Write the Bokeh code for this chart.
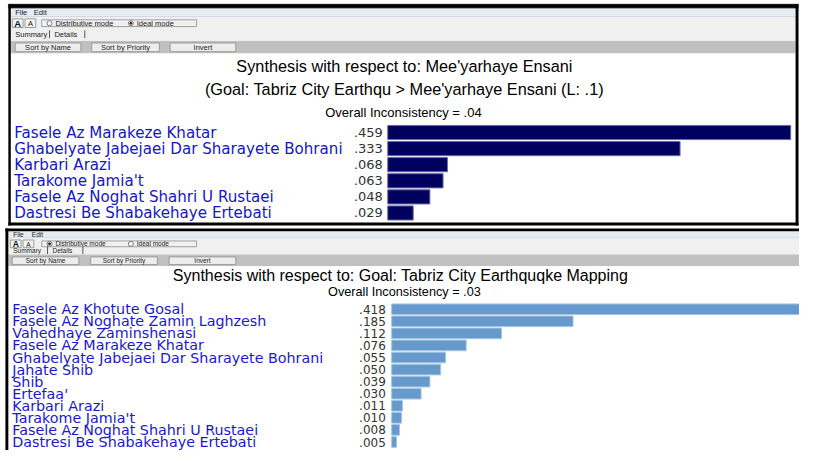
import numpy as np
from bokeh.plotting import figure
from bokeh.models import Range1d
from bokeh.embed import file_html
from bokeh.resources import INLINE
from bokeh.core.properties import value

# ---------------- data ----------------
top_title = "Synthesis with respect to: Mee'yarhaye Ensani"
top_subtitle = "(Goal: Tabriz City Earthqu > Mee'yarhaye Ensani (L: .1)"
top_inconsistency = "Overall Inconsistency = .04"
top_labels = [
    "Fasele Az Marakeze Khatar",
    "Ghabelyate Jabejaei Dar Sharayete Bohrani",
    "Karbari Arazi",
    "Tarakome Jamia't",
    "Fasele Az Noghat Shahri U Rustaei",
    "Dastresi Be Shabakehaye Ertebati",
]
top_values = [0.459, 0.333, 0.068, 0.063, 0.048, 0.029]

bottom_title = "Synthesis with respect to: Goal: Tabriz City Earthquqke Mapping"
bottom_inconsistency = "Overall Inconsistency = .03"
bottom_labels = [
    "Fasele Az Khotute Gosal",
    "Fasele Az Noghate Zamin Laghzesh",
    "Vahedhaye Zaminshenasi",
    "Fasele Az Marakeze Khatar",
    "Ghabelyate Jabejaei Dar Sharayete Bohrani",
    "Jahate Shib",
    "Shib",
    "Ertefaa'",
    "Karbari Arazi",
    "Tarakome Jamia't",
    "Fasele Az Noghat Shahri U Rustaei",
    "Dastresi Be Shabakehaye Ertebati",
]
bottom_values = [0.418, 0.185, 0.112, 0.076, 0.055, 0.050, 0.039, 0.030,
                 0.011, 0.010, 0.008, 0.005]

menu_items = ["File", "Edit"]
mode_items = ["Distributive mode", "Ideal mode"]
tab_items = ["Summary", "Details"]
button_items = ["Sort by Name", "Sort by Priority", "Invert"]


def fmt(v):
    return f"{v:.3f}"[1:]


# ---------------- figure ----------------
W, H = 799, 450
p = figure(width=W, height=H, output_backend="svg", toolbar_location=None,
           x_range=Range1d(0, 815), y_range=Range1d(466, 0),
           x_axis_location=None, y_axis_location=None, min_border=0)
p.grid.visible = False
p.outline_line_color = None
p.background_fill_color = "white"
p.border_fill_color = "white"

p.extra_x_ranges = {
    "v1": Range1d(-395 / 895.4, (815 - 395) / 895.4),
    "v2": Range1d(-0.399, 0.416),
}
p.extra_y_ranges = {
    "r1": Range1d((466 - 136.7) / 16.67, -136.7 / 16.67),
    "r2": Range1d((466 - 319.7) / 12.5, -319.7 / 12.5),
}

SANS = value("Liberation Sans")
DV = value("DejaVu Sans")


def rect(x0, x1, y0, y1, fill, line=None, lw=1):
    p.quad(left=[x0], right=[x1], top=[y0], bottom=[y1], fill_color=fill,
           line_color=line, line_width=lw)


def txt(x, y, s, size, color="black", align="left", font=SANS, style="normal"):
    p.text(x=[x], y=[y], text=[s], text_font=font, text_font_size=f"{size}px",
           text_color=color, text_align=align, text_baseline="middle",
           text_font_style=style)


def chrome(y_top, menu_y, toolbar_y, tab_y, gray_y, btn_y, btn_x, left,
           right, checked, fsize, content_bottom):
    # menu bar
    rect(left, right, y_top, menu_y, "#e6ebf4")
    p.segment(x0=[left], x1=[right], y0=[menu_y], y1=[menu_y], line_color="#c4cede")
    txt(left + 5, (y_top + menu_y) / 2, menu_items[0], fsize, "#222")
    txt(left + 24, (y_top + menu_y) / 2, menu_items[1], fsize, "#222")
    # toolbar
    rect(left, right, menu_y, gray_y[0], "#f0f0f0")
    ay0, ay1 = toolbar_y
    rect(left + 2, left + 13, ay0, ay1, "#f4f4f4", "#9a9a9a")
    rect(left + 15, left + 26, ay0, ay1, "#f4f4f4", "#9a9a9a")
    txt(left + 7.5, (ay0 + ay1) / 2 + 0.5, "A", fsize + 2, "#111", "center", style="bold")
    txt(left + 20.5, (ay0 + ay1) / 2 + 0.5, "A", fsize, "#111", "center")
    rect(42, 200, ay0 + 1, ay1 - 1, "#f0f0f0", "#a0a0a0")
    ym = (ay0 + ay1) / 2
    for i, (xr, lab) in enumerate(zip([50, 133], mode_items)):
        p.scatter(x=[xr], y=[ym], size=5, marker="circle", fill_color="white",
                  line_color="#777")
        if i == checked:
            p.scatter(x=[xr], y=[ym], size=2, marker="circle", fill_color="#222",
                      line_color="#222")
        txt(xr + 6, ym, lab, fsize, "#222")
    txt(left + 5, tab_y, tab_items[0], fsize, "#222")
    txt(left + 45, tab_y, tab_items[1], fsize, "#222")
    p.segment(x0=[left + 40, left + 76], x1=[left + 40, left + 76],
              y0=[tab_y - 4, tab_y - 4], y1=[tab_y + 4, tab_y + 4],
              line_color="#555", line_width=1)
    # gray button bar
    rect(left, right, gray_y[0], gray_y[1], "#c0c0c0")
    by0, by1 = btn_y
    for (bx0, bx1), lab in zip(btn_x, button_items):
        rect(bx0, bx1, by0, by1, "#ededed", "#9a9a9a")
        txt((bx0 + bx1) / 2, (by0 + by1) / 2, lab, fsize, "#222", "center")
    # white content area
    rect(left, right, gray_y[1], content_bottom, "white")


# ---------------- top panel ----------------
chrome(8, 17, (19, 28), 35, (42, 55), (44, 53),
       [(15, 82), (93, 162), (173, 240)], 10, 811, 1, 7.5, 230)
rect(8, 814, 3.5, 8, "black", "#888", 0.5)
rect(8, 10.5, 4, 233, "black")
rect(811, 814, 4, 233, "black")
rect(8, 814, 230, 233, "black")

txt(412, 68, top_title, 16.3, align="center")
txt(412, 92, top_subtitle, 16.3, align="center")
txt(411, 116, top_inconsistency, 13, align="center")

r1 = np.arange(len(top_values))
p.hbar(y=r1, left=0, right=top_values, height=0.88, fill_color="#00005e",
       line_color="#6a6aa6", line_width=1, x_range_name="v1", y_range_name="r1")
p.text(x=[14] * len(top_labels), y=r1, text=top_labels, text_font=DV,
       text_font_size="15.1px", text_color="#1616c8", text_baseline="middle",
       y_range_name="r1")
p.text(x=[390] * len(top_values), y=r1, text=[fmt(v) for v in top_values],
       text_font=DV, text_font_size="13px", text_color="#333333",
       text_align="right", text_baseline="middle", y_range_name="r1")

# ---------------- bottom panel ----------------
chrome(239, 246, (248, 256), 258.5, (263, 275), (265.5, 273.5),
       [(12, 80), (92, 160), (172, 240)], 8, 815, 0, 6.5, 466)
rect(5, 815, 236, 239, "black")
rect(5, 8, 236, 466, "black")

txt(408, 285, bottom_title, 16, align="center")
txt(412, 302, bottom_inconsistency, 12.7, align="center")

r2 = np.arange(len(bottom_values))
p.hbar(y=r2, left=0, right=bottom_values, height=0.88, fill_color="#6699cc",
       line_color="#a9c5e3", line_width=1, x_range_name="v2", y_range_name="r2")
p.text(x=[12] * len(bottom_labels), y=r2, text=bottom_labels, text_font=DV,
       text_font_size="14.3px", text_color="#1a1acc", text_baseline="middle",
       y_range_name="r2")
p.text(x=[393] * len(bottom_values), y=r2, text=[fmt(v) for v in bottom_values],
       text_font=DV, text_font_size="12px", text_color="#333333",
       text_align="right", text_baseline="middle", y_range_name="r2")

open("out.html", "w").write(file_html(p, INLINE))
